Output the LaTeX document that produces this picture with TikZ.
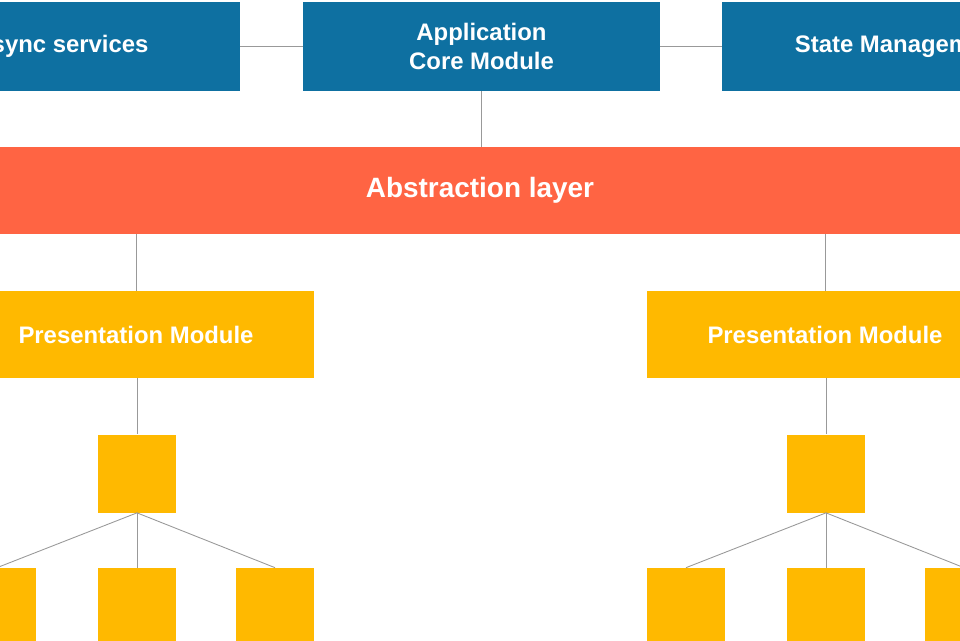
\documentclass[tikz,border=0pt]{standalone}
\usepackage{fontspec}
\setmainfont{Liberation Sans}
\usepackage{tikz}
\usetikzlibrary{positioning}
\definecolor{coreblue}{HTML}{0E70A1}
\definecolor{layerred}{HTML}{FF6443}
\definecolor{modyellow}{HTML}{FFB900}
\tikzset{
    module/.style={rectangle, draw=none, fill=coreblue, text=white, font=\bfseries\fontsize{13.6}{16}\selectfont, align=center, minimum width=7.14cm, minimum height=1.78cm, inner sep=0pt},
    layer/.style={rectangle, draw=none, fill=layerred, text=white, font=\bfseries\fontsize{15.9}{19}\selectfont, minimum width=19.6cm, minimum height=1.74cm, inner sep=0pt},
    present/.style={rectangle, draw=none, fill=modyellow, text=white, font=\bfseries\fontsize{13.6}{16}\selectfont, minimum width=7.14cm, minimum height=1.74cm, inner sep=0pt},
    leaf/.style={rectangle, draw=none, fill=modyellow, minimum size=1.56cm, inner sep=0pt},
    link/.style={draw=gray!80, line width=0.5pt}
}
\begin{document}
\begin{tikzpicture}[x=0.02cm, y=-0.02cm]
    \useasboundingbox (0,0) rectangle (960,640);
    \clip (0,0) rectangle (960,640);

    % Top row
    \node (core) [module] at (481.5,46.5) {Application\\Core Module};
    \node (async) [module] at (61.5,46.5) {Async services};
    \node (state) [module] at (900.5,46.5) {State Management};

    % Abstraction layer
    \node (layer) [layer] at (480,190.5) {Abstraction layer};

    % Presentation modules
    \node (presL) [present] at (136,334.5) {Presentation Module};
    \node (presR) [present] at (825,334.5) {Presentation Module};

    % Sub modules
    \node (subL) [leaf] at (137,473.5) {};
    \node (subR) [leaf] at (826,473.5) {};
    \node (leafLa) [leaf] at (-3,607) {};
    \node (leafLb) [leaf] at (137,607) {};
    \node (leafLc) [leaf] at (275,607) {};
    \node (leafRa) [leaf] at (686,607) {};
    \node (leafRb) [leaf] at (826,607) {};
    \node (leafRc) [leaf] at (964,607) {};

    % Links
    \draw [link] (async.east) -- (core.west);
    \draw [link] (core.east) -- (state.west);
    \draw [link] (core.south) -- (layer.north -| core.south);
    \draw [link] (layer.south -| presL.north) -- (presL.north);
    \draw [link] (layer.south -| presR.north) -- (presR.north);
    \draw [link] (presL.south -| subL.north) -- (subL.north);
    \draw [link] (presR.south -| subR.north) -- (subR.north);
    \foreach \c in {leafLa, leafLb, leafLc}
        \draw [link] (subL.south) -- (\c.north);
    \foreach \c in {leafRa, leafRb, leafRc}
        \draw [link] (subR.south) -- (\c.north);
\end{tikzpicture}
\end{document}
